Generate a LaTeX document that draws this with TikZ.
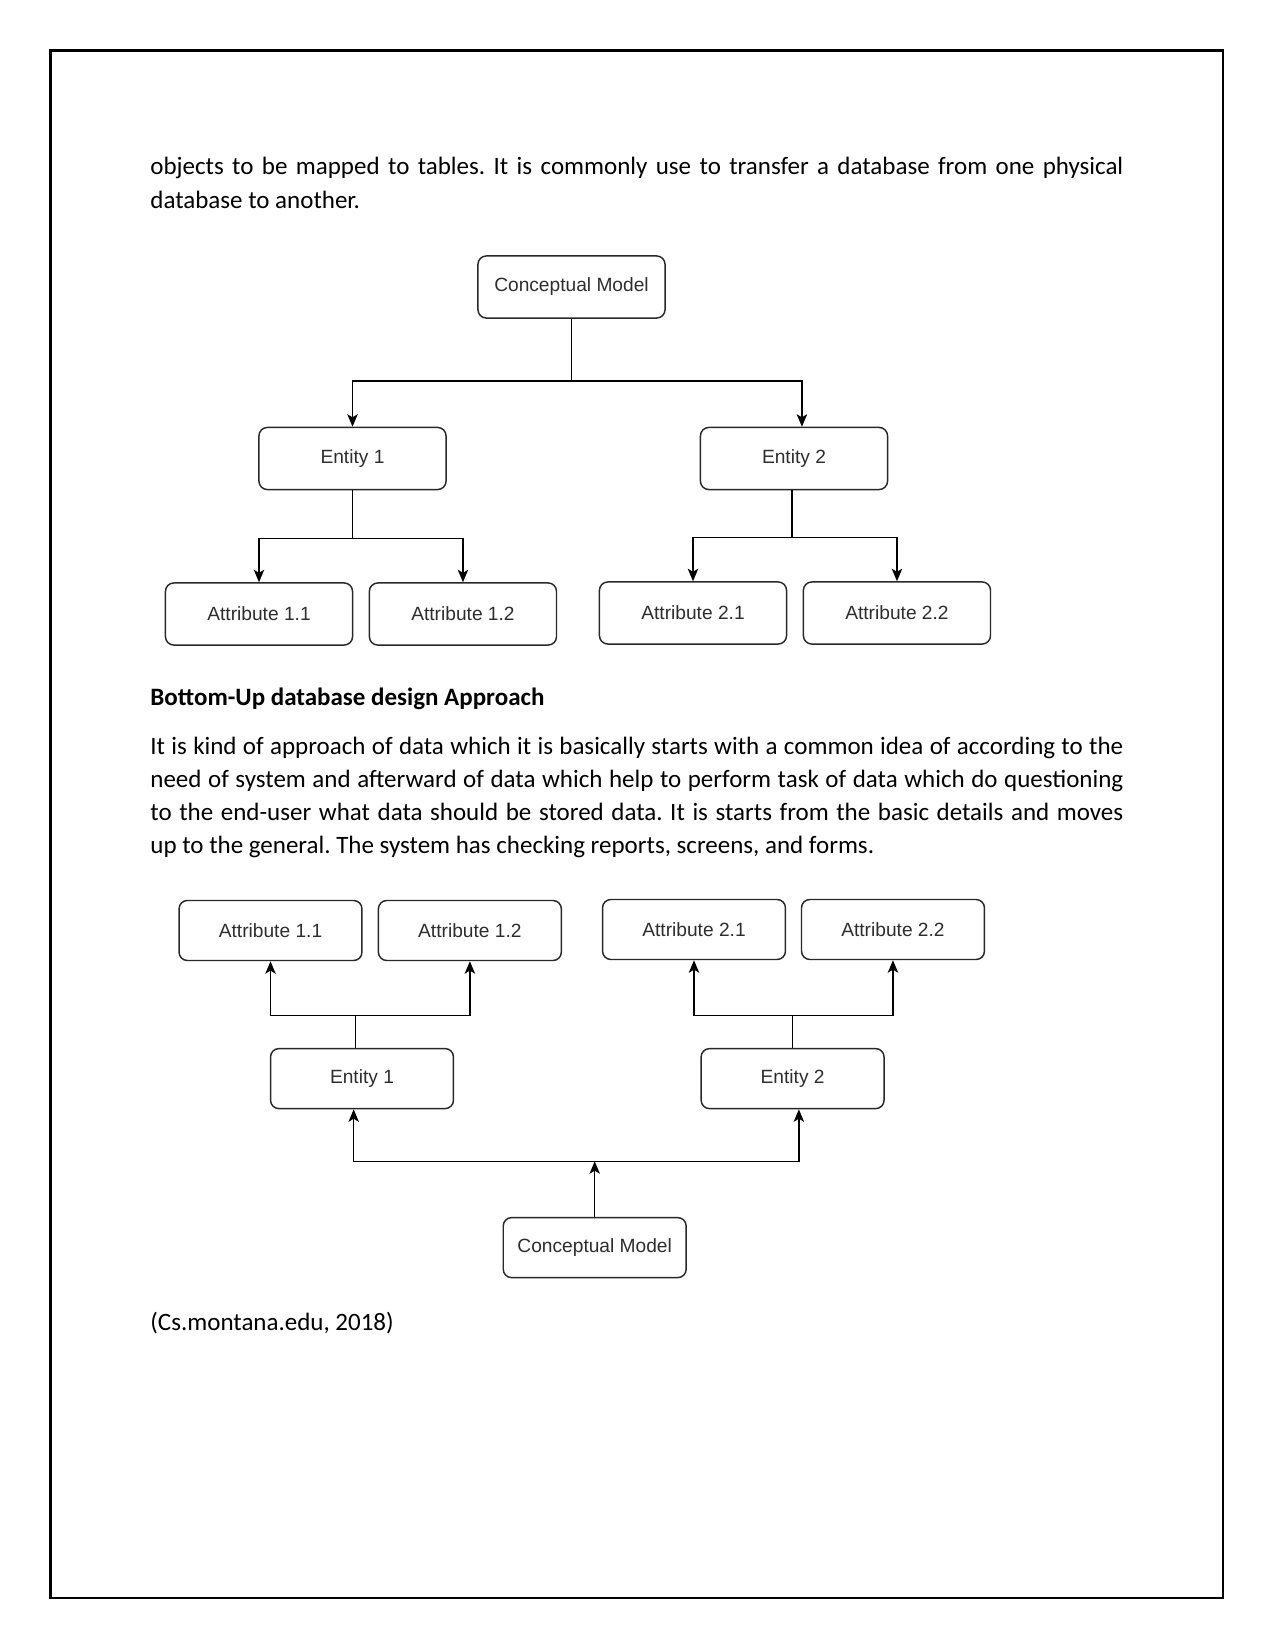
\documentclass[tikz,border=0pt]{standalone}
\usepackage{fontspec}
\setmainfont{Carlito}
\newfontfamily\diagfont{Liberation Sans}
\usetikzlibrary{arrows.meta, positioning}
\definecolor{cBox}{RGB}{40,40,40}
\definecolor{cLabel}{RGB}{45,45,45}
\hyphenpenalty=10000
\exhyphenpenalty=10000
\tolerance=10000
\frenchspacing
\tikzset{
    bigbox/.style   ={rectangle, rounded corners=4pt, minimum width=89.8pt, minimum height=29.8pt, inner sep=1pt, align=center, draw=cBox, line width=0.7pt, text=cLabel, font=\diagfont\fontsize{9.2}{11}\selectfont},
    smallbox/.style ={bigbox, minimum width=87.8pt, minimum height=28.8pt},
    flowline/.style ={line width=0.7pt},
    flowarrow/.style={flowline, -{Stealth[length=6pt, width=5pt, inset=1.5pt]}},
    bodytext/.style ={anchor=base west, inner sep=0pt, text width=467pt, align=justify, font=\fontsize{12}{15.84}\selectfont},
}
\begin{document}
\begin{tikzpicture}[x=0.48pt, y=-0.48pt]
    \useasboundingbox (0,0) rectangle (1275,1651);
    \draw[line width=1.35pt] (50.5,50.5) rectangle (1223,1598);

    % text of the page
    \node[bodytext] (intro) at (150,175) {objects to be mapped to tables. It is commonly use to transfer a database from one physical\linebreak database to another.};
    \node[bodytext] (heading) at (150,705) {\textbf{Bottom-Up database design Approach}};
    \node[bodytext] (para) at (150,754.5) {It is kind of approach of data which it is basically starts with a common idea of according to the\linebreak need of system and afterward of data which help to perform task of data which do questioning\linebreak to the end-user what data should be stored data. It is starts from the basic details and moves\linebreak up to the general. The system has checking reports, screens, and forms.};
    \node[bodytext] (cite) at (150,1330) {(Cs.montana.edu, 2018)};

    % top-down tree
    \node[bigbox] (tcm) at (571.5,287) {Conceptual Model};
    \node[bigbox] (te1) at (352.5,458.5) {Entity 1};
    \node[bigbox] (te2) at (794,458.5) {Entity 2};
    \node[bigbox] (ta11) at (259,614) {Attribute 1.1};
    \node[bigbox, right=7.4pt of ta11] (ta12) {Attribute 1.2};
    \node[bigbox] (ta21) at (693,613) {Attribute 2.1};
    \node[bigbox, right=7.4pt of ta21] (ta22) {Attribute 2.2};

    \draw[flowline] (tcm.south) -- ++(0,62) coordinate (tsplit);
    \draw[flowarrow] (tsplit) -| (te1.north);
    \draw[flowarrow] (tsplit) -| ([xshift=3.8pt]te2.north);
    \draw[flowline] (te1.south) -- ++(0,48) coordinate (t1split);
    \draw[flowarrow] (t1split) -| (ta11.north);
    \draw[flowarrow] (t1split) -| (ta12.north);
    \draw[flowline] ([xshift=-1pt]te2.south) -- ++(0,47) coordinate (t2split);
    \draw[flowarrow] (t2split) -| (ta21.north);
    \draw[flowarrow] (t2split) -| (ta22.north);

    % bottom-up tree
    \node[smallbox] (ba11) at (270.5,930.5) {Attribute 1.1};
    \node[smallbox, right=7.2pt of ba11] (ba12) {Attribute 1.2};
    \node[smallbox] (ba21) at (694,929.5) {Attribute 2.1};
    \node[smallbox, right=7pt of ba21] (ba22) {Attribute 2.2};
    \node[smallbox] (be1) at (362,1078.6) {Entity 1};
    \node[smallbox] (be2) at (792.6,1078.6) {Entity 2};
    \node[smallbox] (bcm) at (594.7,1247.6) {Conceptual Model};

    \draw[flowarrow] (bcm.north) -- ++(0,-55.6) coordinate (bjoin);
    \draw[flowarrow] (bjoin) -| ([xshift=-4pt]be1.south);
    \draw[flowarrow] (bjoin) -| ([xshift=3pt]be2.south);
    \draw[flowline] ([xshift=-3pt]be1.north) -- ++(0,-32.6) coordinate (b1split);
    \draw[flowarrow] (b1split) -| (ba11.south);
    \draw[flowarrow] (b1split) -| (ba12.south);
    \draw[flowline] (be2.north) -- ++(0,-32.6) coordinate (b2split);
    \draw[flowarrow] (b2split) -| (ba21.south);
    \draw[flowarrow] (b2split) -| (ba22.south);
\end{tikzpicture}
\end{document}
